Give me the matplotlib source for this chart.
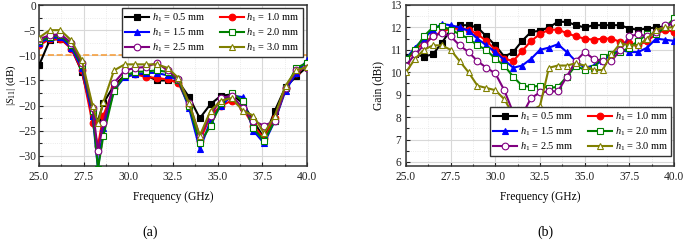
import matplotlib.pyplot as plt
from matplotlib.ticker import MultipleLocator

plt.rcParams['font.family'] = 'Liberation Serif'
plt.rcParams['mathtext.fontset'] = 'custom'
plt.rcParams['mathtext.rm'] = 'Liberation Serif'
plt.rcParams['mathtext.it'] = 'Liberation Serif:italic'

# (a) |S11| data
freq_s = [25.0, 25.6, 26.2, 26.8, 27.4, 28.0, 28.3, 28.6, 29.2, 29.8, 30.4, 31.0, 31.6, 32.2,
          32.8, 33.4, 34.0, 34.6, 35.2, 35.8, 36.4, 37.0, 37.6, 38.2, 38.8, 39.4, 40.0]
s11_05 = [-12, -7, -6.7, -8.5, -13.3, -22, -23, -19.5, -16, -14, -13.8, -14.0, -15.0, -15.0,
          -15.2, -18.3, -22.5, -19.7, -18.0, -17.8, -19.5, -23, -26.5, -21, -16.3, -14.2, -12.3]
s11_10 = [-8, -6.8, -6.7, -8.7, -13, -23.5, -28, -22, -16.5, -14.2, -13.8, -14.3, -14.5, -14.8,
          -15.5, -20, -27, -22, -20, -19, -20.5, -24, -26.5, -22.5, -16.5, -13.5, -12]
s11_15 = [-7.5, -6.6, -6.4, -8.5, -12.5, -22, -32.5, -24.5, -17, -14.3, -13.8, -13.5, -13.5, -14,
          -15, -20.5, -28.7, -23, -20, -18, -18.3, -25, -27.5, -23, -17, -13.5, -11]
s11_20 = [-7.2, -6.3, -6.0, -8, -12, -21, -32.5, -26, -17, -14, -13.3, -13.2, -13.0, -13.3,
          -15, -20, -27.5, -24, -19.5, -17.5, -19, -24.5, -27, -23, -16.5, -12.5, -11.5]
s11_25 = [-6.8, -6.0, -5.8, -7.5, -11.5, -20.5, -29, -23.5, -15.5, -13.0, -12.5, -12.3, -11.5, -13,
          -14.7, -19.5, -26, -22, -18.5, -18, -20.5, -23, -24, -23, -16.5, -13, -12.5]
s11_30 = [-6.5, -5.0, -5.0, -7, -11, -20, -23.5, -19.3, -13, -11.8, -11.8, -11.8, -11.8, -12.5,
          -14.5, -19.5, -26, -21, -19, -18.5, -21, -22, -25.5, -22, -16, -13, -12.3]

# (b) gain data
freq_g = [25.0 + 0.5 * i for i in range(31)]
gain_05 = [10.7, 10.8, 10.7, 10.8, 11.3, 11.9, 12.1, 12.1, 12.0, 11.6, 11.2, 10.7, 10.9, 11.4, 11.8, 11.85,
           12.0, 12.25, 12.25, 12.1, 12.0, 12.1, 12.1, 12.1, 12.1, 11.95, 11.9, 11.95, 12.0, 12.05, 12.2]
gain_10 = [10.5, 11.0, 11.3, 11.6, 11.8, 11.95, 11.95, 11.9, 11.7, 11.4, 11.0, 10.6, 10.5, 10.95, 11.4, 11.7,
           11.9, 11.9, 11.75, 11.6, 11.5, 11.45, 11.5, 11.5, 11.35, 11.3, 11.2, 11.4, 11.7, 11.9, 11.8]
gain_15 = [10.6, 11.1, 11.5, 11.9, 12.15, 12.1, 12.0, 11.85, 11.5, 11.2, 10.9, 10.55, 10.2, 10.3, 10.6, 11.0,
           11.1, 11.25, 10.9, 10.5, 10.2, 10.3, 10.5, 10.8, 11.0, 10.9, 10.9, 11.1, 11.5, 11.45, 11.4]
gain_20 = [10.6, 11.0, 11.6, 12.0, 12.05, 11.9, 11.7, 11.5, 11.2, 11.0, 10.6, 10.3, 9.8, 9.4, 9.35, 9.4,
           9.3, 9.35, 9.8, 10.3, 10.1, 10.2, 10.7, 10.8, 10.9, 11.1, 11.4, 11.7, 11.7, 12.0, 12.4]
gain_25 = [10.3, 10.8, 11.2, 11.6, 11.75, 11.6, 11.2, 10.9, 10.5, 10.2, 9.95, 9.2, 8.2, 8.1, 8.85, 9.1,
           9.15, 9.15, 9.8, 10.5, 10.9, 10.6, 10.5, 10.5, 11.0, 11.6, 11.7, 11.6, 11.8, 12.1, 12.2]
gain_30 = [10.0, 10.6, 11.0, 11.2, 11.2, 11.0, 10.5, 10.0, 9.4, 9.3, 9.2, 8.8, 8.1, 8.2, 8.3, 8.5,
           10.2, 10.3, 10.3, 10.4, 10.3, 10.1, 10.1, 10.8, 11.3, 11.2, 11.2, 11.5, 11.9, 12.0, 12.0]

labels = ['0.5', '1.0', '1.5', '2.0', '2.5', '3.0']
colors = ['black', '#ff0000', '#0000ff', '#008000', '#800080', '#808000']
markers = ['s', 'o', '^', 's', 'o', '^']
filled = [True, True, True, False, False, False]

fig = plt.figure(figsize=(6.85, 2.41), dpi=100)
ax1 = fig.add_axes([39 / 685, 1 - 166 / 241, 268 / 685, 161 / 241])
ax2 = fig.add_axes([406 / 685, 1 - 166 / 241, 268 / 685, 161 / 241])


def draw(ax, x, series):
    handles = []
    for i, y in enumerate(series):
        h, = ax.plot(x, y, color=colors[i], marker=markers[i], lw=1.5, ms=4.8,
                     mfc=colors[i] if filled[i] else 'white', mec=colors[i], mew=0.8,
                     label=r'$h_1$ = ' + labels[i] + ' mm', zorder=3)
        handles.append(h)
    # legend is filled row by row in the original
    return [handles[k] for k in (0, 2, 4, 1, 3, 5)]


def style(ax):
    ax.set_xlim(25, 40)
    ax.xaxis.set_major_locator(MultipleLocator(2.5))
    ax.xaxis.set_minor_locator(MultipleLocator(1.25))
    ax.xaxis.set_major_formatter(plt.FormatStrFormatter('%.1f'))
    ax.tick_params(which='both', direction='in', labelsize=8.3, width=0.8, colors='#222222')
    ax.tick_params(which='major', length=3)
    ax.tick_params(which='minor', length=1.8)
    ax.grid(which='major', color='#d8d8d8', lw=0.8)
    ax.grid(which='minor', color='#e4e4e4', lw=0.6, ls=':')
    for sp in ax.spines.values():
        sp.set_linewidth(1.1)
        sp.set_color('#333333')
    ax.set_xlabel('Frequency (GHz)', fontsize=8.3, labelpad=6)


def legend(ax, handles, **kw):
    leg = ax.legend(handles=handles, ncol=2, fontsize=7.5, frameon=True, fancybox=False,
                    edgecolor='#333333', handlelength=2.3, borderpad=0.3, labelspacing=0.25,
                    columnspacing=1.4, handletextpad=0.25, borderaxespad=0, **kw)
    leg.get_frame().set_linewidth(1.0)
    leg.get_frame().set_alpha(1)
    return leg


h1 = draw(ax1, freq_s, [s11_05, s11_10, s11_15, s11_20, s11_25, s11_30])
ax1.axhline(-10, color='#f5a040', ls='--', lw=1.2, zorder=2)
style(ax1)
ax1.set_ylim(-32, 0)
ax1.yaxis.set_major_locator(MultipleLocator(5))
ax1.yaxis.set_minor_locator(MultipleLocator(2.5))
ax1.tick_params(axis='y', pad=2)
ax1.set_ylabel(r'|$S_{11}$| (dB)', fontsize=7.8)
ax1.yaxis.set_label_coords(-0.078, 0.5)
legend(ax1, h1, loc='upper right', bbox_to_anchor=(0.985, 0.98))

h2 = draw(ax2, freq_g, [gain_05, gain_10, gain_15, gain_20, gain_25, gain_30])
style(ax2)
ax2.set_ylim(5.82, 13)
ax2.yaxis.set_major_locator(MultipleLocator(1))
ax2.yaxis.set_minor_locator(MultipleLocator(0.5))
ax2.set_ylabel('Gain (dBi)', fontsize=8.3, labelpad=4)
legend(ax2, h2, loc='lower right', bbox_to_anchor=(0.99, 0.06))

fig.text(150 / 685, 1 - 232 / 241, '(a)', fontsize=10, ha='center', va='center')
fig.text(545 / 685, 1 - 232 / 241, '(b)', fontsize=10, ha='center', va='center')

plt.savefig('out.png', dpi=100)
